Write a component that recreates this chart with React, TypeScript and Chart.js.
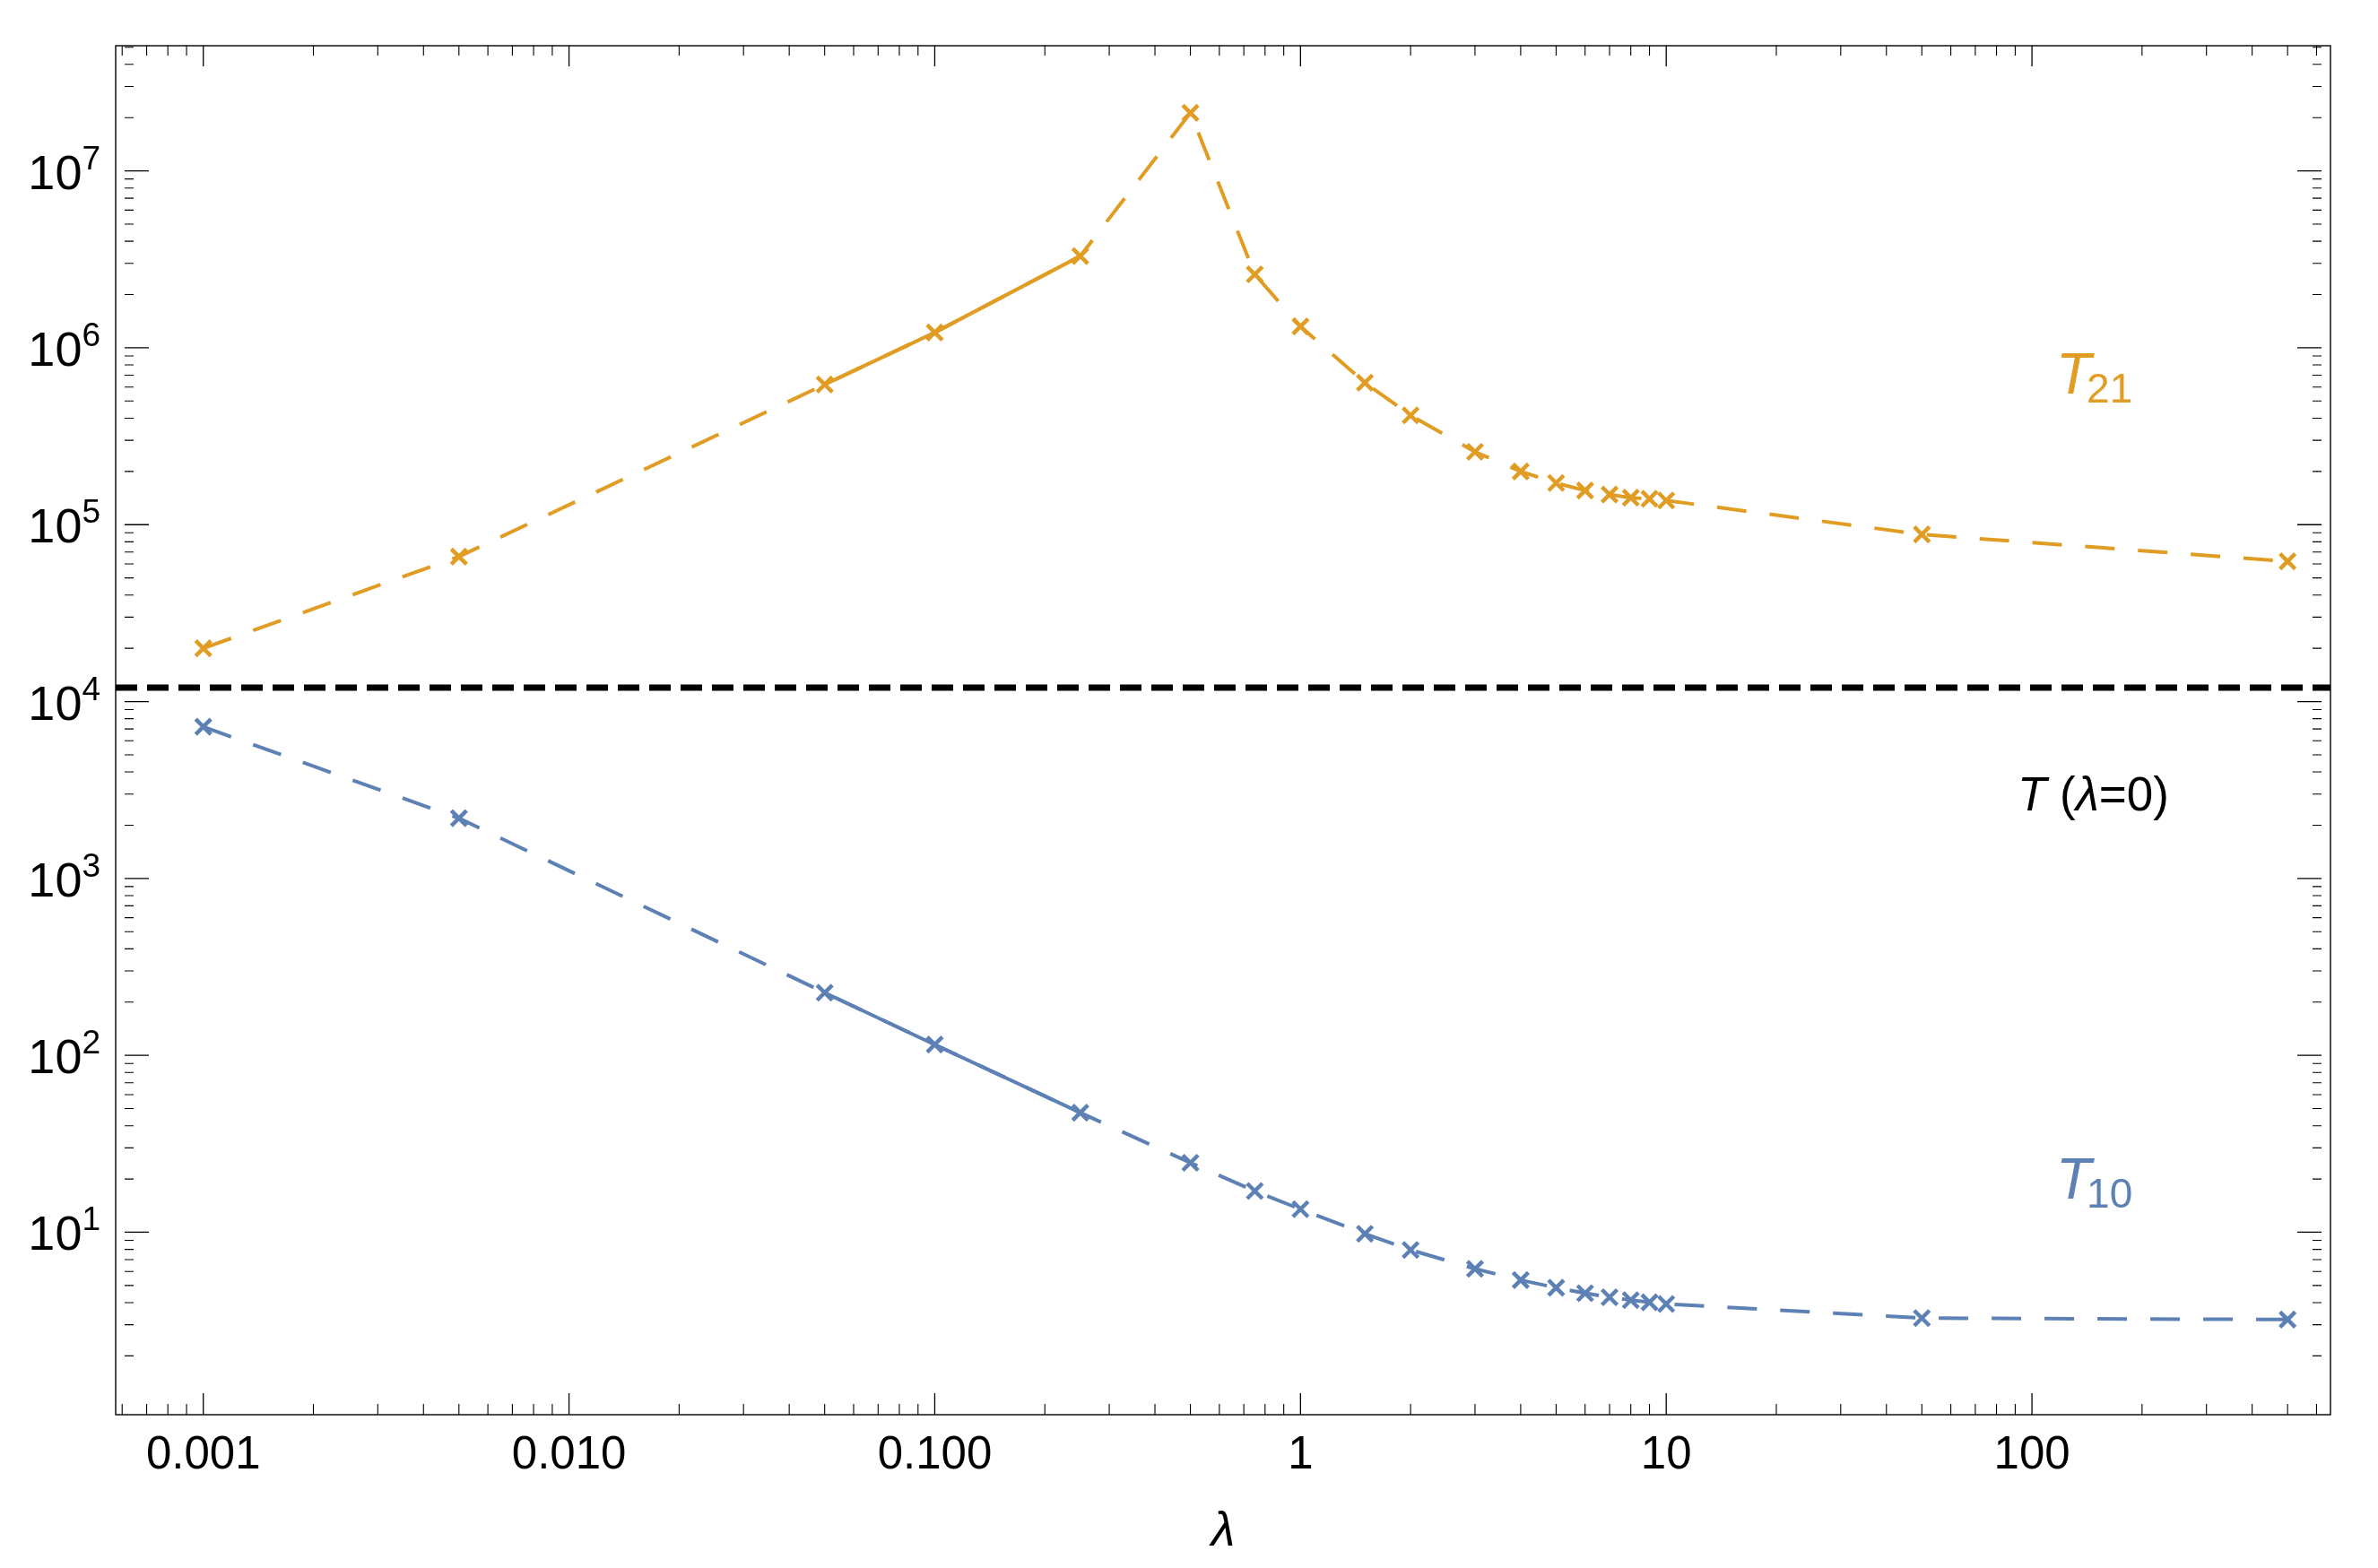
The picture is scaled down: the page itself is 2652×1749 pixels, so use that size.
import { useEffect, useRef } from "react";
import { Chart, registerables } from "chart.js";

Chart.register(...registerables);

const W = 2652;
const H = 1749;
const FONT = '"Liberation Sans", Arial, sans-serif';
const ORANGE = "#E19C24";
const BLUE = "#5E81B5";

// data
const lambdas = [0.001, 0.005, 0.05, 0.1, 0.25, 0.5, 0.75, 1, 1.5, 2, 3, 4, 5, 6, 7, 8, 9, 10, 50, 500];
const t21 = [
  2.0e4, 6.6e4, 6.2e5, 1.22e6, 3.3e6, 2.13e7, 2.6e6, 1.32e6, 6.35e5, 4.15e5,
  2.58e5, 2.0e5, 1.72e5, 1.56e5, 1.48e5, 1.42e5, 1.4e5, 1.37e5, 8.8e4, 6.2e4,
];
const t10 = [
  7.2e3, 2.19e3, 226, 115, 47.4, 24.7, 17.1, 13.5, 9.8, 7.94,
  6.21, 5.36, 4.86, 4.52, 4.29, 4.13, 4.02, 3.93, 3.27, 3.21,
];
const tZero = 1.2e4;
const solidFrom = 0.05;
const solidTo = 0.25;

const xMin = 5.76e-4;
const xMax = 655;
const yMin = 0.93;
const yMax = 5.1e7;

const xMajor = [0.001, 0.01, 0.1, 1, 10, 100];
const xLabels = ["0.001", "0.010", "0.100", "1", "10", "100"];
const yMajor = [1e1, 1e2, 1e3, 1e4, 1e5, 1e6, 1e7];
const yExponents = ["1", "2", "3", "4", "5", "6", "7"];

function minorTicks(min: number, max: number) {
  const out: number[] = [];
  for (let e = Math.floor(Math.log10(min)); e <= Math.ceil(Math.log10(max)); e++) {
    for (let k = 2; k <= 9; k++) {
      const v = k * Math.pow(10, e);
      if (v >= min && v <= max) out.push(v);
    }
  }
  return out;
}

const pts = (ys: number[]) => lambdas.map((x, i) => ({ x, y: ys[i] }));
const solidPts = (ys: number[]) =>
  pts(ys).filter((p) => p.x >= solidFrom && p.x <= solidTo);

const framePlugin = {
  id: "mmaFrame",
  beforeDatasetsDraw(chart: any) {
    const { ctx, chartArea: a, scales } = chart;
    const xs = scales.x;
    const ys = scales.y;
    ctx.save();
    ctx.strokeStyle = "#000";

    const xTick = (v: number, len: number, w: number) => {
      const px = xs.getPixelForValue(v);
      ctx.lineWidth = w;
      ctx.beginPath();
      ctx.moveTo(px, a.bottom);
      ctx.lineTo(px, a.bottom - len);
      ctx.moveTo(px, a.top);
      ctx.lineTo(px, a.top + len - 1);
      ctx.stroke();
    };
    const yTick = (v: number, len: number, w: number) => {
      const py = ys.getPixelForValue(v);
      ctx.lineWidth = w;
      ctx.beginPath();
      ctx.moveTo(a.left + 10, py);
      ctx.lineTo(a.left + 10 + len, py);
      ctx.moveTo(a.right - 10, py);
      ctx.lineTo(a.right - 10 - len, py);
      ctx.stroke();
    };

    minorTicks(xMin, xMax).forEach((v) => xTick(v, 12, 1.1));
    xMajor.forEach((v) => xTick(v, 24, 1.3));
    minorTicks(yMin, yMax).forEach((v) => yTick(v, 10, 1.1));
    yMajor.forEach((v) => yTick(v, 27, 1.3));

    ctx.lineWidth = 1.4;
    ctx.strokeRect(a.left, a.top, a.right - a.left, a.bottom - a.top);

    // tick labels
    ctx.fillStyle = "#000";
    ctx.font = `51px ${FONT}`;
    ctx.textAlign = "center";
    ctx.textBaseline = "alphabetic";
    xMajor.forEach((v, i) => {
      ctx.fillText(xLabels[i], xs.getPixelForValue(v), a.bottom + 60);
    });

    yMajor.forEach((v, i) => {
      const py = ys.getPixelForValue(v);
      const right = a.left - 17;
      ctx.textAlign = "right";
      ctx.font = `37px ${FONT}`;
      const supW = ctx.measureText(yExponents[i]).width;
      ctx.fillText(yExponents[i], right, py - 2);
      ctx.font = `54px ${FONT}`;
      ctx.fillText("10", right - supW, py + 20);
    });

    // axis title
    ctx.textAlign = "center";
    ctx.font = `italic 54px ${FONT}`;
    ctx.fillText("λ", (a.left + a.right) / 2, a.bottom + 146);
    ctx.restore();
  },
  afterDraw(chart: any) {
    const { ctx } = chart;
    ctx.save();
    ctx.textAlign = "left";
    ctx.textBaseline = "alphabetic";

    const subLabel = (color: string, x: number, y: number, sub: string) => {
      ctx.fillStyle = color;
      ctx.font = `italic 64px ${FONT}`;
      ctx.fillText("T", x, y);
      const w = ctx.measureText("T").width;
      ctx.font = `46px ${FONT}`;
      ctx.fillText(sub, x + w - 5, y + 10);
    };
    subLabel(ORANGE, 2293, 439, "21");
    subLabel(BLUE, 2293, 1337, "10");

    // T (λ=0)
    let x = 2250;
    const y = 904;
    ctx.fillStyle = "#000";
    const parts: [string, boolean][] = [["T", true], [" (", false], ["λ", true], ["=0)", false]];
    parts.forEach(([s, it]) => {
      ctx.font = `${it ? "italic " : ""}53px ${FONT}`;
      ctx.fillText(s, x, y);
      x += ctx.measureText(s).width;
    });
    ctx.restore();
  },
};

export default function App() {
  const canvasRef = useRef<HTMLCanvasElement>(null);
  const chartRef = useRef<Chart | null>(null);

  useEffect(() => {
    document.body.style.margin = "0";
    if (!canvasRef.current) return;
    if (chartRef.current) chartRef.current.destroy();
    const ctx = canvasRef.current.getContext("2d");
    if (!ctx) return;

    const series = (color: string, ys: number[]) => [
      {
        data: pts(ys),
        borderColor: color,
        backgroundColor: color,
        borderWidth: 4,
        borderDash: [33, 26],
        pointStyle: "crossRot" as const,
        pointRadius: 12,
        pointBorderWidth: 4.5,
        pointBorderColor: color,
        tension: 0,
        fill: false,
      },
      {
        data: solidPts(ys),
        borderColor: color,
        borderWidth: 4,
        pointRadius: 0,
        tension: 0,
        fill: false,
      },
    ];

    chartRef.current = new Chart(ctx, {
      type: "line",
      data: {
        datasets: [
          ...series(BLUE, t10),
          ...series(ORANGE, t21),
          {
            data: [
              { x: xMin, y: tZero },
              { x: xMax, y: tZero },
            ],
            borderColor: "#000",
            borderWidth: 7,
            borderDash: [24, 11],
            pointRadius: 0,
            fill: false,
          },
        ],
      },
      options: {
        responsive: false,
        animation: false,
        devicePixelRatio: 1,
        parsing: false,
        layout: { padding: { left: 129, top: 51, right: W - 2599, bottom: H - 1578 } },
        scales: {
          x: { type: "logarithmic", min: xMin, max: xMax, display: false },
          y: { type: "logarithmic", min: yMin, max: yMax, display: false },
        },
        plugins: {
          legend: { display: false },
          tooltip: { enabled: false },
        },
      },
      plugins: [framePlugin],
    });

    return () => {
      if (chartRef.current) {
        chartRef.current.destroy();
        chartRef.current = null;
      }
    };
  }, []);

  return (
    <div style={{ width: W, height: H, background: "#fff" }}>
      <canvas ref={canvasRef} width={W} height={H} style={{ width: W, height: H }} />
    </div>
  );
}
